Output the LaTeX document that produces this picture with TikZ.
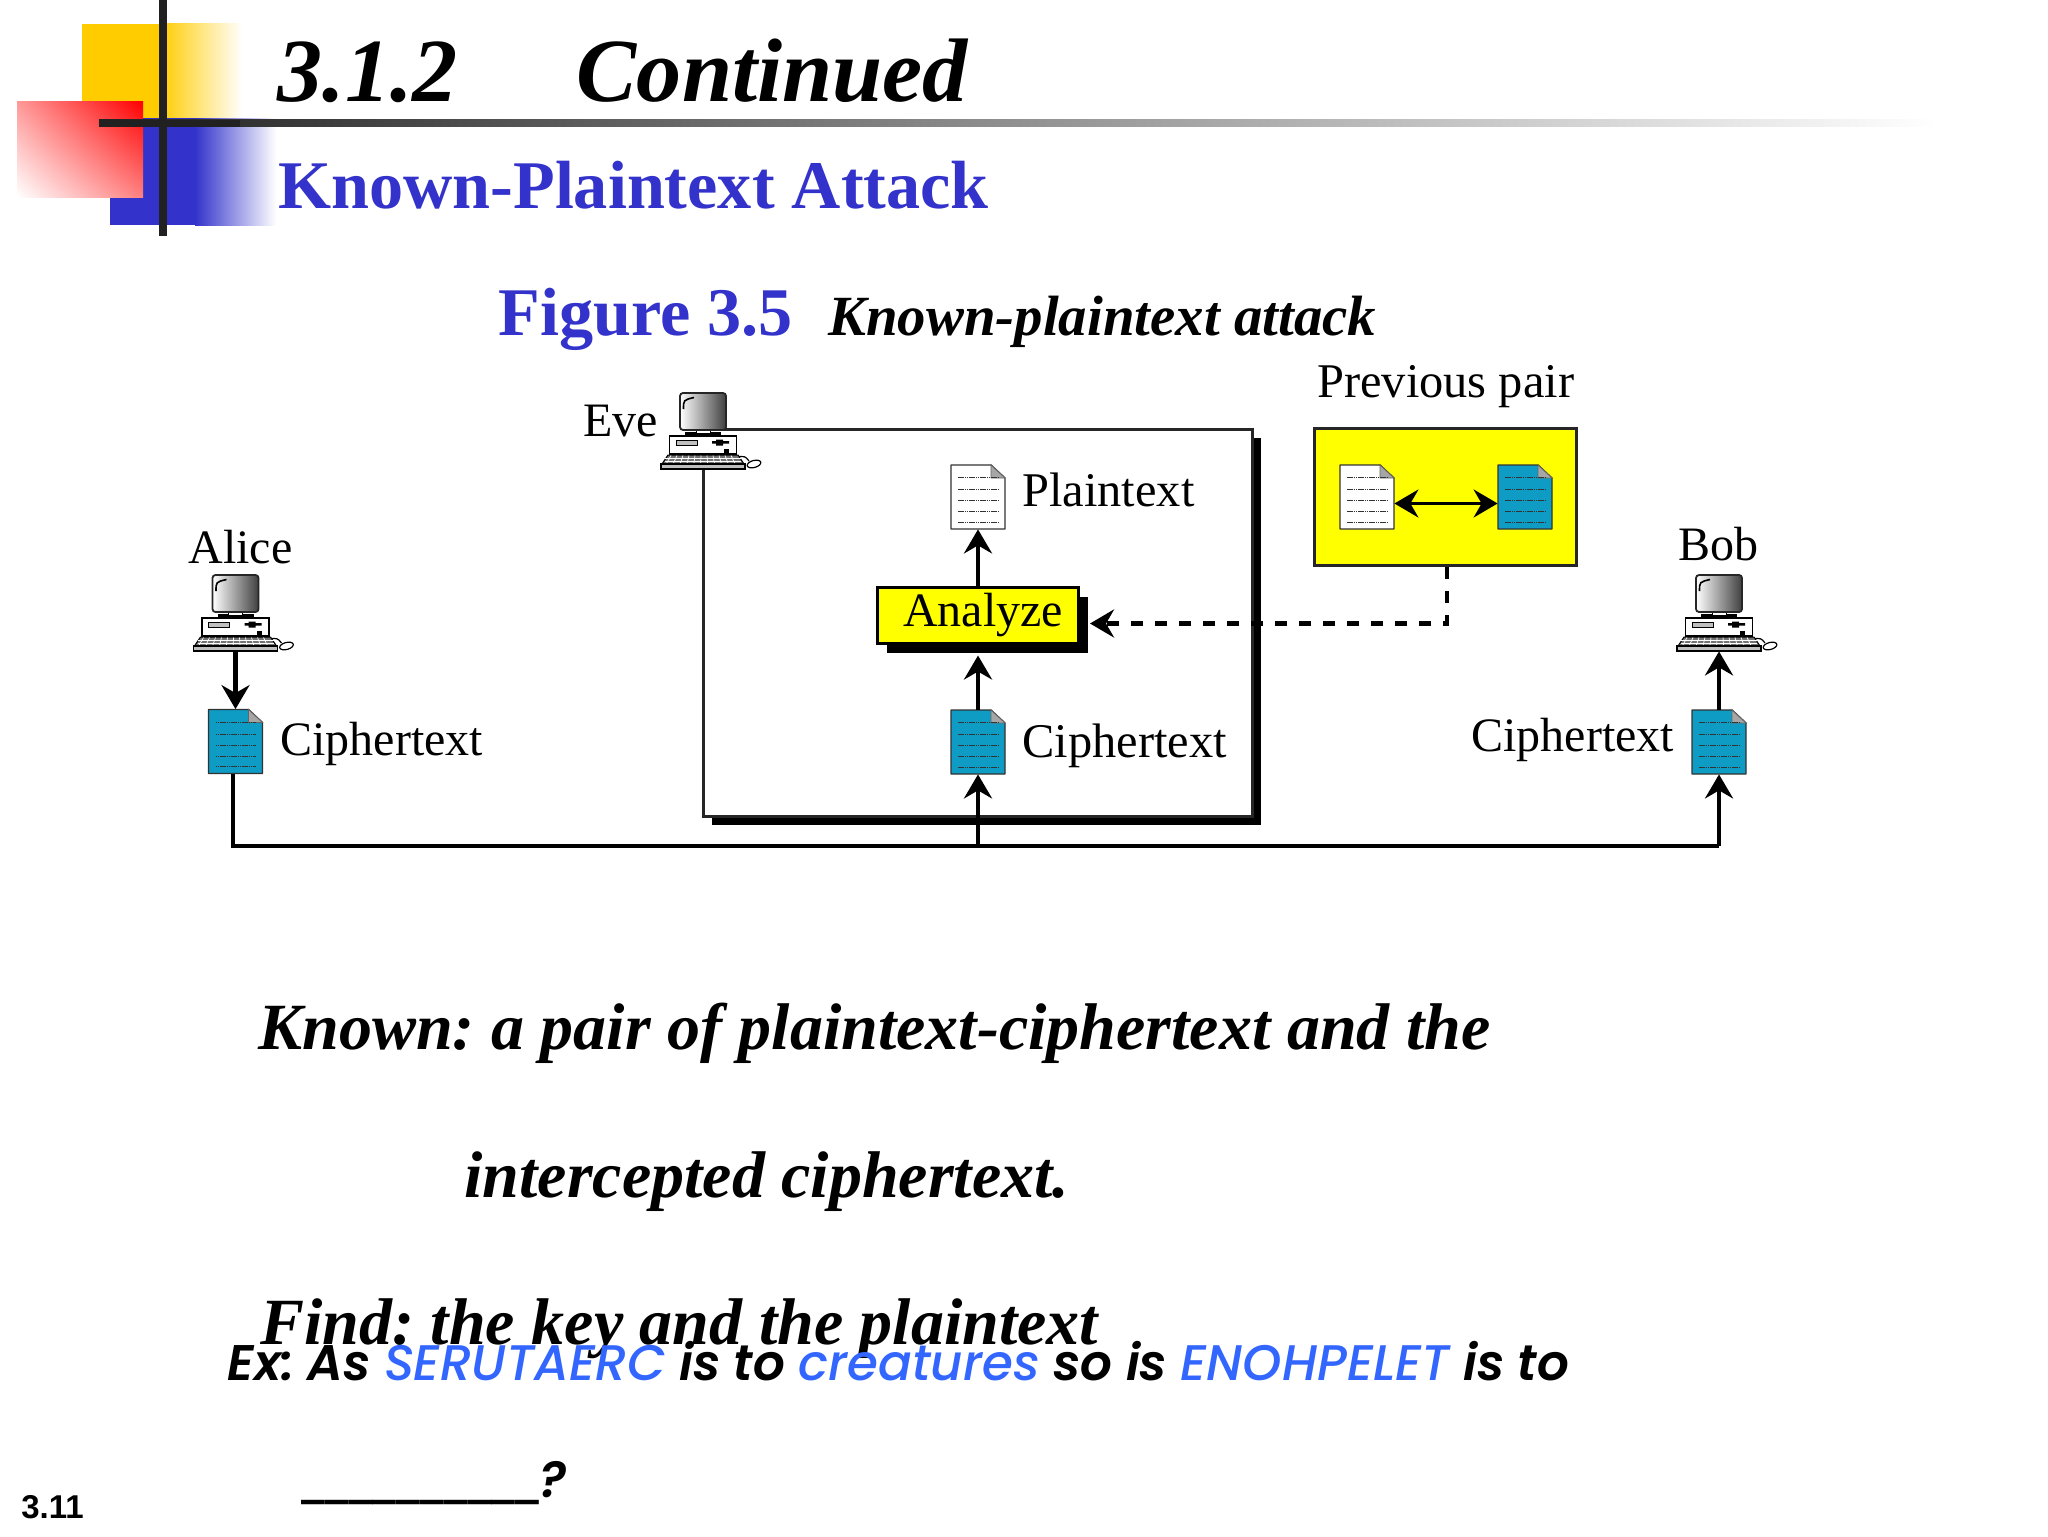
\documentclass[tikz,border=0pt]{standalone}
\usepackage{fontspec}
\setmainfont{Liberation Serif}
\newfontfamily\gothicfont{Poppins}[UprightFont=* SemiBold,ItalicFont=* SemiBold Italic]
\newfontfamily\gothicblue{Poppins}[UprightFont=* Medium,ItalicFont=* Medium Italic]
\newfontfamily\pagefont{Liberation Sans}
\newfontfamily\blankfont{DejaVu Sans}
\usetikzlibrary{arrows.meta,shadows,shadings}
\definecolor{deckblue}{HTML}{3333CC}
\definecolor{deckyellow}{HTML}{FFCC00}
\definecolor{boxyellow}{HTML}{FFFF00}
\definecolor{linkblue}{HTML}{3366FF}
\definecolor{docblue}{HTML}{0E9BC4}
\newcommand{\linkword}[1]{{\gothicblue\itshape\color{linkblue}#1}}
\tikzset{
  textline/.style={anchor=base west,inner sep=0,font=\fontsize{#1}{#1}\selectfont},
  docbox/.style={inner sep=0,minimum width=27pt,minimum height=32pt},
  pcbox/.style={inner sep=0,minimum width=42pt,minimum height=38pt},
  arrowline/.style={line width=2.3pt,-{Stealth[length=12pt,width=14pt,inset=4pt]}},
  dashline/.style={arrowline,dash pattern=on 6pt off 6pt},
  pairline/.style={line width=1.6pt,{Stealth[length=12pt,width=14pt,inset=4pt]}-{Stealth[length=12pt,width=14pt,inset=4pt]}},
  docicon/.pic={
    \draw[fill=#1,draw=black!80,line width=.7pt,line join=round] (-27,-32) -- (13,-32) -- (27,-19) -- (27,32) -- (-27,32) -- cycle;
    \draw[fill=black!35,draw=black!60,line width=.4pt] (13,-32) -- (13,-19) -- (27,-19) -- cycle;
    \foreach \ly in {-19.6,-7.6,3.5,14.5,25}
      \draw[line width=.4pt,dash pattern=on .8pt off .3pt,black!80] (-20,\ly) -- (20,\ly);
  },
  pcicon/.pic={
    \fill[black] (-18,1) rectangle (18,5);
    \draw[fill=white,line width=.5pt] (-7,-2) rectangle (7,2);
    \shadedraw[left color=white,middle color=white!80!black,right color=black!75,draw=black!85,line width=.9pt,rounded corners=1.5pt] (-23,-38) rectangle (23,-1);
    \draw[line width=.8pt,black] (-19.5,-22) .. controls (-19.5,-31) .. (-9,-33.5);
    \draw[fill=white,line width=.7pt] (-33.5,5) rectangle (33.5,23);
    \draw[fill=black!25,line width=.4pt] (-27,9.5) rectangle (-6,14.5);
    \fill[black] (9,10) rectangle (26,12.5) (13,8.5) rectangle (20,14.5);
    \fill[black] (21,18) rectangle (26,21.5);
    \draw[line width=.6pt] (33,26) .. controls (42,25) .. (46,30);
    \draw[fill=white,line width=.6pt,rotate around={15:(51,33)}] (51,33) ellipse (7 and 3.5);
    \draw[fill=black!55,line width=.5pt] (-35,24) -- (35,24) -- (41,33) -- (-41,33) -- cycle;
    \foreach \kx in {-32,-26,...,32}
      \draw[white,line width=.35pt] (\kx,24.5) -- (1.15*\kx,33);
    \foreach \ky in {27,30}
      \draw[white,line width=.35pt] (-38,\ky) -- (38,\ky);
    \draw[fill=black!25,line width=.6pt] (-42,33) rectangle (42,38);
  }
}
\begin{document}
\frenchspacing
\begin{tikzpicture}[x=0.5pt,y=-0.5pt]
\useasboundingbox (0,0) rectangle (2048,1536);
\fill[white] (0,0) rectangle (2048,1536);

\fill[deckyellow] (82,24) rectangle (160,120);
\shade[left color=deckyellow,right color=white] (160,24) rectangle (242,120);
\fill[deckblue] (110,118) rectangle (195,225);
\shade[left color=deckblue,right color=white] (195,118) rectangle (276,225);
\shade[upper left=red!40,upper right=red,lower left=white,lower right=red!50] (17,102) rectangle (143,197);
\shade[left color=black!87,right color=white] (99,119.5) rectangle (1936,126.5);
\fill[black!87] (159,0) rectangle (167,236);
\fill[black!87] (99,119.5) rectangle (240,126.5);

\node[textline=45.1] (title) at (277,102) {\bfseries\itshape 3.1.2\hspace{59.5pt}Continued};
\node[textline=34.1,text=deckblue] (subtitle) at (278,208) {\bfseries Known-Plaintext Attack};
\node[textline=34.1,text=deckblue] (figlabel) at (498,335) {\bfseries Figure 3.5};
\node[textline=28.4] (figcaption) at (828,335) {\bfseries\itshape Known-plaintext attack};

\node[draw=black!85,line width=1.5pt,fill=white,inner sep=0,minimum width=274.5pt,minimum height=193.5pt,
  drop shadow={shadow xshift=4.5pt,shadow yshift=-4.5pt,opacity=1,fill=black}] (evebox) at (977.5,622.5) {};
\node[draw=black!85,line width=1.5pt,fill=boxyellow,inner sep=0,minimum width=131pt,minimum height=68.75pt] (prevbox) at (1445,497) {};
\node[draw=black,line width=1.5pt,fill=boxyellow,inner sep=0,minimum width=100.5pt,minimum height=28pt,
  font=\fontsize{24}{24}\selectfont,
  drop shadow={shadow xshift=4.5pt,shadow yshift=-5pt,opacity=1,fill=black}] (analyze) at (978,615) {\hspace*{5pt}Analyze};

\node[pcbox] (alicepc) at (235.5,613) {};
\pic at (alicepc) {pcicon};
\node[pcbox] (evepc) at (703,431) {};
\pic at (evepc) {pcicon};
\node[pcbox] (bobpc) at (1719,613) {};
\pic at (bobpc) {pcicon};

\node[docbox] (alicedoc) at (235.5,741.5) {};
\pic at (alicedoc) {docicon=docblue};
\node[docbox] (evedoc) at (978,742) {};
\pic at (evedoc) {docicon=docblue};
\node[docbox] (plaindoc) at (978,497) {};
\pic at (plaindoc) {docicon=white};
\node[docbox] (bobdoc) at (1719,742) {};
\pic at (bobdoc) {docicon=docblue};
\node[docbox] (prevplain) at (1367,497) {};
\pic at (prevplain) {docicon=white};
\node[docbox] (prevcipher) at (1525,497) {};
\pic at (prevcipher) {docicon=docblue};

\node[textline=24] (alicename) at (188,563) {Alice};
\node[textline=24] (evename) at (583,436) {Eve};
\node[textline=24] (bobname) at (1678,560) {Bob};
\node[textline=24.2] (prevname) at (1317,397) {Previous pair};
\node[textline=24.2] (plainname) at (1022,506) {Plaintext};
\node[textline=24.2] (evecipher) at (1022,757) {Ciphertext};
\node[textline=24] (alicecipher) at (280,755) {Ciphertext};
\node[textline=24] (bobcipher) at (1471,751) {Ciphertext};

\coordinate (busmid) at (978,846);
\coordinate (busend) at (1719,846);
\coordinate (dashtip) at (1090,623.5);

\draw[line width=2.3pt] ([xshift=-1.25pt]alicedoc.south) |- (busend);
\draw[arrowline] (busmid) -- (evedoc.south);
\draw[arrowline] (busend) -- (bobdoc.south);
\draw[arrowline] (alicepc.south) -- (alicedoc.north);
\draw[arrowline] (bobdoc.north) -- (bobpc.south);
\draw[arrowline,shorten >=5.5pt] (evedoc.north) -- (analyze.south);
\draw[arrowline] (analyze.north) -- (plaindoc.south);
\draw[dashline] ([xshift=1pt]prevbox.south) |- (dashtip);
\draw[pairline] ([yshift=-3.25pt]prevplain.east) -- ([yshift=-3.25pt]prevcipher.west);

\node[textline=33] (knownline) at (258,1049) {\bfseries\itshape Known: a pair of plaintext-ciphertext and the};
\node[textline=33] (interline) at (464,1197) {\bfseries\itshape intercepted ciphertext.};
\node[textline=33] (findline) at (260,1344) {\bfseries\itshape Find: the key and the plaintext};
\node[textline=25] (exline) at (227,1380) {\gothicfont\itshape Ex: As \linkword{SERUTAERC} is to \linkword{creatures} so is \linkword{ENOHPELET} is to};
\node[textline=23.8] (blankline) at (301,1497) {\raisebox{2pt}{\blankfont\bfseries\_\_\_\_\_\_\_\_\_\_}{\fontsize{25}{26}\selectfont\gothicfont\itshape ?}};
\node[textline=16.5] (pagenum) at (21,1518) {\pagefont\bfseries 3.11};
\end{tikzpicture}
\end{document}
